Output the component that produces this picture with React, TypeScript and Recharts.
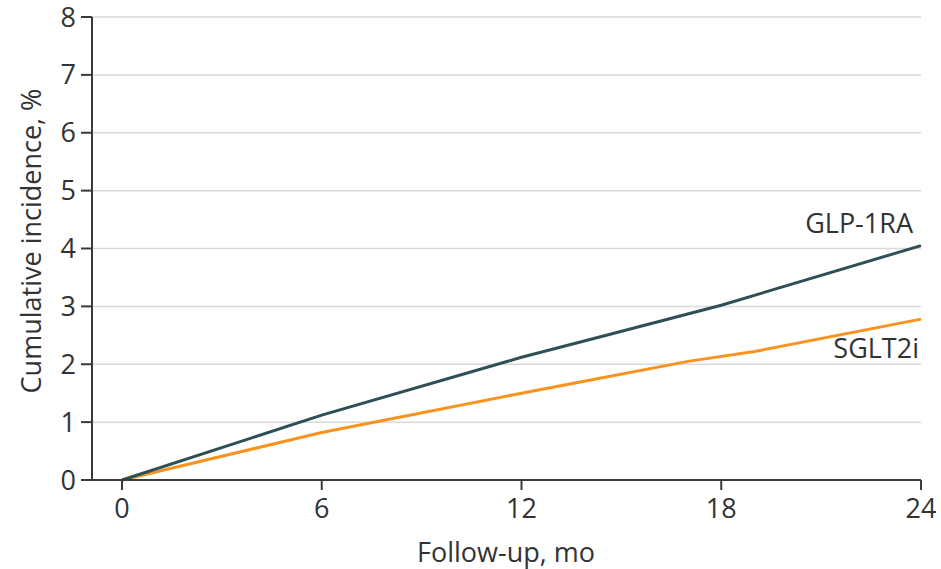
import React from 'react';
import { LineChart, Line, XAxis, YAxis, CartesianGrid, LabelList } from 'recharts';

const glpMonths = [0, 6, 12, 14, 18, 24];
const glp1ra = [0, 1.12, 2.12, 2.42, 3.02, 4.05];
const sglt2iMonths = [0, 6, 12, 14, 17, 19, 24];
const sglt2i = [0, 0.82, 1.5, 1.72, 2.05, 2.22, 2.78];
const xTicks = [0, 6, 12, 18, 24];
const yTicks = [0, 1, 2, 3, 4, 5, 6, 7, 8];

const glpData = glpMonths.map((m, i) => ({ m, v: glp1ra[i] }));
const sgltData = sglt2iMonths.map((m, i) => ({ m, v: sglt2i[i] }));

const FONT = '"Open Sans", sans-serif';
const TEXT = '#333333';
const AXIS = '#3a3a3a';

const makeEndLabel = (name: string, count: number, dx: number, dy: number) => (props: any) => {
  const { x, y, index } = props;
  if (index !== count - 1) return null;
  return (
    <text x={x + dx} y={y + dy} textAnchor="end" fontFamily={FONT} fontSize={27} fill={TEXT}>
      {name}
    </text>
  );
};

export default function App() {
  return (
    <div style={{ position: 'absolute', left: 0, top: 0, width: 941, height: 569, background: '#fff' }}>
      <LineChart width={941} height={569} margin={{ top: 17, right: 20, bottom: 0, left: 0 }}>
        <CartesianGrid horizontal vertical={false} stroke="#d9d9d9" strokeWidth={1.5} />
        <XAxis
          dataKey="m"
          type="number"
          domain={[0, 24]}
          ticks={xTicks}
          padding={{ left: 30, right: 0 }}
          allowDuplicatedCategory={false}
          height={89}
          tickSize={10}
          tickMargin={9}
          stroke={AXIS}
          strokeWidth={2}
          tick={{ fill: TEXT, fontSize: 27, fontFamily: FONT }}
          label={{
            content: () => (
              <text x={506} y={562} textAnchor="middle" fontFamily={FONT} fontSize={27} fill={TEXT}>
                Follow-up, mo
              </text>
            ),
          }}
        />
        <YAxis
          type="number"
          domain={[0, 8]}
          ticks={yTicks}
          width={92}
          tickSize={11}
          tickMargin={5}
          stroke={AXIS}
          strokeWidth={2}
          tick={{ fill: TEXT, fontSize: 27, fontFamily: FONT }}
          label={{
            content: () => (
              <text
                x={41}
                y={241}
                transform="rotate(-90, 41, 241)"
                textAnchor="middle"
                fontFamily={FONT}
                fontSize={27}
                fill={TEXT}
              >
                Cumulative incidence, %
              </text>
            ),
          }}
        />
        <Line
          data={sgltData}
          dataKey="v"
          type="linear"
          stroke="#f7931e"
          strokeWidth={3}
          dot={false}
          isAnimationActive={false}
        >
          <LabelList dataKey="v" content={makeEndLabel('SGLT2i', sgltData.length, -2, 39)} />
        </Line>
        <Line
          data={glpData}
          dataKey="v"
          type="linear"
          stroke="#2f4f56"
          strokeWidth={3}
          dot={false}
          isAnimationActive={false}
        >
          <LabelList dataKey="v" content={makeEndLabel('GLP-1RA', glpData.length, -8, -13)} />
        </Line>
      </LineChart>
    </div>
  );
}
